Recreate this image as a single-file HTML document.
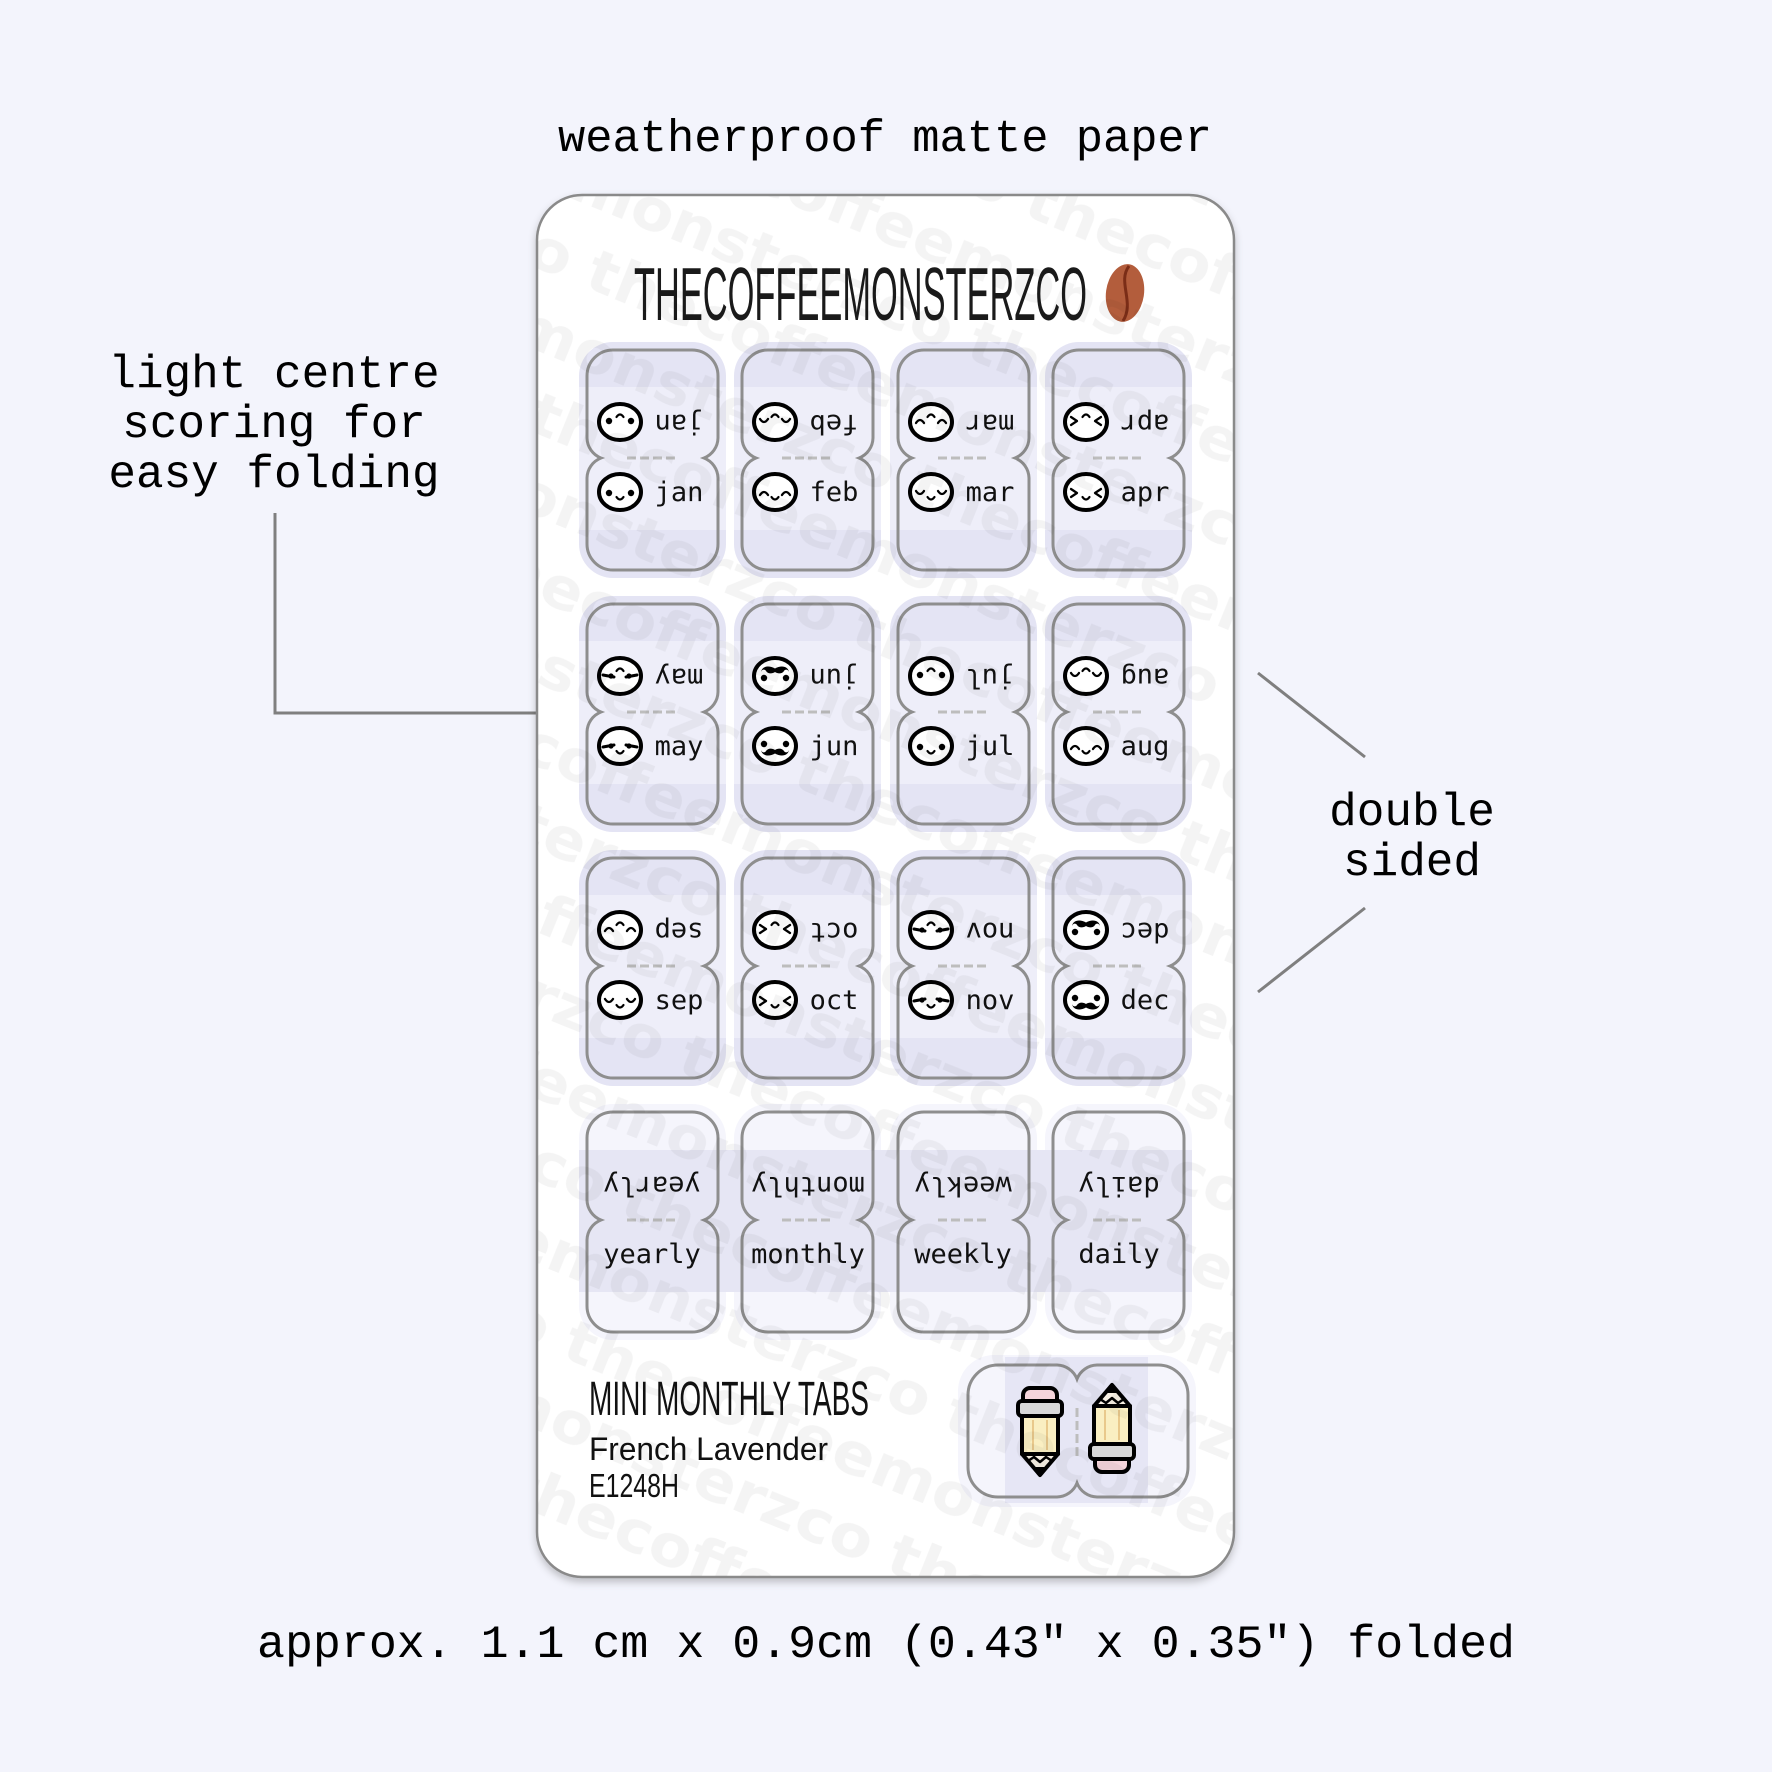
<!DOCTYPE html>
<html><head><meta charset="utf-8"><style>
html,body{margin:0;padding:0;background:#f3f4fc;width:1772px;height:1772px;overflow:hidden;}
svg{display:block;}
.mono{font-family:"Liberation Mono","DejaVu Sans Mono",monospace;}
.tm{font-family:"DejaVu Sans Mono","Liberation Mono",monospace;font-size:27px;fill:#111;}
</style></head><body>
<svg width="1772" height="1772" viewBox="0 0 1772 1772" xmlns="http://www.w3.org/2000/svg">
<defs>
  <filter id="sh" x="-10%" y="-10%" width="120%" height="120%">
    <feDropShadow dx="0" dy="4" stdDeviation="4" flood-color="#000" flood-opacity="0.22"/>
  </filter>
  <pattern id="wm" patternUnits="userSpaceOnUse" x="0" y="0" width="760" height="154" patternTransform="rotate(22 885 885)">
    <g font-family="DejaVu Sans, sans-serif" font-weight="bold" font-size="58" fill="#000" fill-opacity="0.045">
      <text x="0" y="58" textLength="740" lengthAdjust="spacingAndGlyphs">thecoffeemonsterzco</text>
      <text x="-380" y="135" textLength="740" lengthAdjust="spacingAndGlyphs">thecoffeemonsterzco</text>
      <text x="380" y="135" textLength="740" lengthAdjust="spacingAndGlyphs">thecoffeemonsterzco</text>
    </g>
  </pattern>
  <path id="tab" d="M26,0 H105 A26,26 0 0 1 131,26 V88 A22,22 0 0 1 117,108 A22,22 0 0 1 131,128 V194 A26,26 0 0 1 105,220 H26 A26,26 0 0 1 0,194 V128 A22,22 0 0 1 14,108 A22,22 0 0 1 0,88 V26 A26,26 0 0 1 26,0 Z" fill="none" stroke="#8e8e8e" stroke-width="3"/>
  <g id="fbase"><ellipse cx="0" cy="0" rx="21" ry="18" fill="#fff" stroke="#000" stroke-width="4"/></g>
  <path id="mouth" d="M-3.5,5 Q0,10 3.5,5" fill="none" stroke="#000" stroke-width="2.2" stroke-linecap="round"/>
  <g id="fdots"><use href="#fbase"/><circle cx="-11" cy="1" r="3.2"/><circle cx="11" cy="1" r="3.2"/><use href="#mouth"/></g>
  <g id="fhat"><use href="#fbase"/><path d="M-15,3 Q-11,-3 -7,3 M7,3 Q11,-3 15,3" fill="none" stroke="#000" stroke-width="2.3" stroke-linecap="round"/><use href="#mouth"/></g>
  <g id="fu"><use href="#fbase"/><path d="M-15,-1 Q-11,5 -7,-1 M7,-1 Q11,5 15,-1" fill="none" stroke="#000" stroke-width="2.3" stroke-linecap="round"/><use href="#mouth"/></g>
  <g id="fgt"><use href="#fbase"/><path d="M-15,-3 L-9,1 L-15,5 M15,-3 L9,1 L15,5" fill="none" stroke="#000" stroke-width="2.3" stroke-linecap="round" stroke-linejoin="round"/><use href="#mouth"/></g>
  <g id="fsleepy"><use href="#fbase"/><path d="M-17,1 L-6,-1 M17,1 L6,-1" fill="none" stroke="#000" stroke-width="3" stroke-linecap="round"/><circle cx="-9" cy="0" r="2.6"/><circle cx="9" cy="0" r="2.6"/><use href="#mouth"/></g>
  <g id="fstache"><use href="#fbase"/><circle cx="-11" cy="-2" r="3.2"/><circle cx="11" cy="-2" r="3.2"/><path d="M0,4 C-3,2 -7,2 -9,5 C-10,7 -13,7 -14,4 C-13,10 -6,11 0,7.5 C6,11 13,10 14,4 C13,7 10,7 9,5 C7,2 3,2 0,4 Z"/></g>
  <g id="pencil" stroke="#000" stroke-width="4" stroke-linejoin="round">
    <rect x="-17" y="0" width="34" height="18" rx="7" fill="#f5d4db"/>
    <rect x="-22" y="13" width="44" height="15" rx="4" fill="#d9d9d9"/>
    <rect x="-18" y="28" width="36" height="38" fill="#faefc2"/>
    <path d="M-7,32 V62 M7,32 V62" stroke="#e9c98c" stroke-width="2"/>
    <path d="M-18,66 L0,87 L18,66 Z" fill="#f7f0e4"/>
    <path d="M-12,73 L-6,69 L0,74 L6,69 L12,73" fill="none" stroke-width="2.5"/>
    <path d="M-5,81 L0,87 L5,81 Z" fill="#000"/>
  </g>
</defs>

<rect width="1772" height="1772" fill="#f3f4fc"/>

<!-- title -->
<text class="mono" x="558" y="151" font-size="45" textLength="654" lengthAdjust="spacingAndGlyphs" fill="#000">weatherproof matte paper</text>

<!-- left annotation -->
<g class="mono" font-size="46" fill="#000" text-anchor="middle">
  <text x="274" y="387">light centre</text>
  <text x="274" y="437">scoring for</text>
  <text x="274" y="487">easy folding</text>
</g>
<path d="M275,513 V713 H561" fill="none" stroke="#7f7f7f" stroke-width="3"/>

<!-- right annotation -->
<g class="mono" font-size="46" fill="#000" text-anchor="middle">
  <text x="1412" y="825">double</text>
  <text x="1412" y="875">sided</text>
</g>
<path d="M1258,673 L1365,757 M1365,908 L1258,992" fill="none" stroke="#7f7f7f" stroke-width="3"/>

<!-- bottom text -->
<text class="mono" x="257" y="1657" font-size="46" textLength="1258" lengthAdjust="spacingAndGlyphs" fill="#000">approx. 1.1 cm x 0.9cm (0.43" x 0.35") folded</text>

<!-- card -->
<rect x="537" y="195" width="697" height="1382" rx="45" fill="#fff" stroke="#8a8a8a" stroke-width="2.5" filter="url(#sh)"/>

<!-- brand -->
<text x="634" y="320" font-family="Liberation Sans, sans-serif" font-size="75" textLength="453" lengthAdjust="spacingAndGlyphs" fill="#1a1a1a">THECOFFEEMONSTERZCO</text>
<ellipse cx="1125" cy="293" rx="19" ry="29" fill="#b35d3c" transform="rotate(8 1125 293)"/>
<path d="M1129,266 C1117,282 1135,302 1123,321" fill="none" stroke="#7b2d17" stroke-width="3"/>

<!-- halos rows 1-3 -->
<g fill="#e4e4f4">
  <rect x="579" y="342" width="147" height="236" rx="34"/><rect x="734" y="342" width="147" height="236" rx="34"/><rect x="890" y="342" width="147" height="236" rx="34"/><rect x="1045" y="342" width="147" height="236" rx="34"/>
  <rect x="579" y="596" width="147" height="236" rx="34"/><rect x="734" y="596" width="147" height="236" rx="34"/><rect x="890" y="596" width="147" height="236" rx="34"/><rect x="1045" y="596" width="147" height="236" rx="34"/>
  <rect x="579" y="850" width="147" height="236" rx="34"/><rect x="734" y="850" width="147" height="236" rx="34"/><rect x="890" y="850" width="147" height="236" rx="34"/><rect x="1045" y="850" width="147" height="236" rx="34"/>
</g>
<g fill="#eeeef9">
  <rect x="579" y="387" width="147" height="143"/><rect x="734" y="387" width="147" height="143"/><rect x="890" y="387" width="147" height="143"/><rect x="1045" y="387" width="147" height="143"/>
  <rect x="579" y="641" width="147" height="143"/><rect x="734" y="641" width="147" height="143"/><rect x="890" y="641" width="147" height="143"/><rect x="1045" y="641" width="147" height="143"/>
  <rect x="579" y="895" width="147" height="143"/><rect x="734" y="895" width="147" height="143"/><rect x="890" y="895" width="147" height="143"/><rect x="1045" y="895" width="147" height="143"/>
</g>
<!-- row 4 halos -->
<g fill="#f5f5fc">
  <rect x="579" y="1104" width="147" height="236" rx="34"/><rect x="734" y="1104" width="147" height="236" rx="34"/><rect x="890" y="1104" width="147" height="236" rx="34"/><rect x="1045" y="1104" width="147" height="236" rx="34"/>
</g>
<rect x="579" y="1150" width="613" height="142" fill="#e6e6f4"/>

<!-- pencil tab background -->
<rect x="958" y="1355" width="238" height="152" rx="36" fill="#f5f5fc"/>
<rect x="1005" y="1357" width="143" height="146" fill="#e6e6f5"/>

<!-- tab outlines -->
<use href="#tab" x="587" y="350"/><use href="#tab" x="742" y="350"/><use href="#tab" x="898" y="350"/><use href="#tab" x="1053" y="350"/>
<use href="#tab" x="587" y="604"/><use href="#tab" x="742" y="604"/><use href="#tab" x="898" y="604"/><use href="#tab" x="1053" y="604"/>
<use href="#tab" x="587" y="858"/><use href="#tab" x="742" y="858"/><use href="#tab" x="898" y="858"/><use href="#tab" x="1053" y="858"/>
<use href="#tab" x="587" y="1112"/><use href="#tab" x="742" y="1112"/><use href="#tab" x="898" y="1112"/><use href="#tab" x="1053" y="1112"/>

<path transform="translate(968 1365)" d="M30,0 H89 A22,22 0 0 1 109,14 A22,22 0 0 1 129,0 H190 A30,30 0 0 1 220,30 V102 A30,30 0 0 1 190,132 H129 A22,22 0 0 1 109,118 A22,22 0 0 1 89,132 H30 A30,30 0 0 1 0,102 V30 A30,30 0 0 1 30,0 Z" fill="none" stroke="#8e8e8e" stroke-width="3"/>

<!-- dashed fold lines -->
<g stroke="#bdbdbd" stroke-width="3" stroke-dasharray="9 4">
  <path d="M627,458 H675 M782,458 H830 M938,458 H986 M1093,458 H1141"/>
  <path d="M627,712 H675 M782,712 H830 M938,712 H986 M1093,712 H1141"/>
  <path d="M627,966 H675 M782,966 H830 M938,966 H986 M1093,966 H1141"/>
  <path d="M627,1220 H675 M782,1220 H830 M938,1220 H986 M1093,1220 H1141"/>
  <path d="M1077,1408 V1456"/>
</g>

<!-- faces row 1 -->
<use href="#fdots" transform="translate(620 492)"/><use href="#fdots" transform="translate(620 422) rotate(180)"/>
<use href="#fhat" transform="translate(775 492)"/><use href="#fhat" transform="translate(775 422) rotate(180)"/>
<use href="#fu" transform="translate(931 492)"/><use href="#fu" transform="translate(931 422) rotate(180)"/>
<use href="#fgt" transform="translate(1086 492)"/><use href="#fgt" transform="translate(1086 422) rotate(180)"/>
<!-- faces row 2 -->
<use href="#fsleepy" transform="translate(620 746)"/><use href="#fsleepy" transform="translate(620 676) rotate(180)"/>
<use href="#fstache" transform="translate(775 746)"/><use href="#fstache" transform="translate(775 676) rotate(180)"/>
<use href="#fdots" transform="translate(931 746)"/><use href="#fdots" transform="translate(931 676) rotate(180)"/>
<use href="#fhat" transform="translate(1086 746)"/><use href="#fhat" transform="translate(1086 676) rotate(180)"/>
<!-- faces row 3 -->
<use href="#fu" transform="translate(620 1000)"/><use href="#fu" transform="translate(620 930) rotate(180)"/>
<use href="#fgt" transform="translate(775 1000)"/><use href="#fgt" transform="translate(775 930) rotate(180)"/>
<use href="#fsleepy" transform="translate(931 1000)"/><use href="#fsleepy" transform="translate(931 930) rotate(180)"/>
<use href="#fstache" transform="translate(1086 1000)"/><use href="#fstache" transform="translate(1086 930) rotate(180)"/>

<!-- month labels -->
<g class="tm" text-anchor="middle">
  <text x="679" y="501">jan</text><text x="679" y="501" transform="rotate(180 679 458)">jan</text>
  <text x="834" y="501">feb</text><text x="834" y="501" transform="rotate(180 834 458)">feb</text>
  <text x="990" y="501">mar</text><text x="990" y="501" transform="rotate(180 990 458)">mar</text>
  <text x="1145" y="501">apr</text><text x="1145" y="501" transform="rotate(180 1145 458)">apr</text>

  <text x="679" y="755">may</text><text x="679" y="755" transform="rotate(180 679 712)">may</text>
  <text x="834" y="755">jun</text><text x="834" y="755" transform="rotate(180 834 712)">jun</text>
  <text x="990" y="755">jul</text><text x="990" y="755" transform="rotate(180 990 712)">jul</text>
  <text x="1145" y="755">aug</text><text x="1145" y="755" transform="rotate(180 1145 712)">aug</text>

  <text x="679" y="1009">sep</text><text x="679" y="1009" transform="rotate(180 679 966)">sep</text>
  <text x="834" y="1009">oct</text><text x="834" y="1009" transform="rotate(180 834 966)">oct</text>
  <text x="990" y="1009">nov</text><text x="990" y="1009" transform="rotate(180 990 966)">nov</text>
  <text x="1145" y="1009">dec</text><text x="1145" y="1009" transform="rotate(180 1145 966)">dec</text>

  <text x="652" y="1263">yearly</text><text x="652" y="1263" transform="rotate(180 652 1220)">yearly</text>
  <text x="808" y="1263">monthly</text><text x="808" y="1263" transform="rotate(180 808 1220)">monthly</text>
  <text x="963" y="1263">weekly</text><text x="963" y="1263" transform="rotate(180 963 1220)">weekly</text>
  <text x="1119" y="1263">daily</text><text x="1119" y="1263" transform="rotate(180 1119 1220)">daily</text>
</g>

<!-- pencils -->
<use href="#pencil" transform="translate(1040 1388)"/>
<use href="#pencil" transform="translate(1112 1472) rotate(180)"/>

<!-- product info -->
<text x="589" y="1415" font-family="Liberation Sans, sans-serif" font-size="48" textLength="280" lengthAdjust="spacingAndGlyphs" fill="#111">MINI MONTHLY TABS</text>
<text x="589" y="1460" font-family="Liberation Sans, sans-serif" font-size="32" textLength="239" lengthAdjust="spacingAndGlyphs" fill="#111">French Lavender</text>
<text x="589" y="1497" font-family="Liberation Sans, sans-serif" font-size="33" textLength="90" lengthAdjust="spacingAndGlyphs" fill="#111">E1248H</text>

<!-- watermark -->
<rect x="538" y="196" width="695" height="1380" rx="44" fill="url(#wm)"/>
</svg>
</body></html>
